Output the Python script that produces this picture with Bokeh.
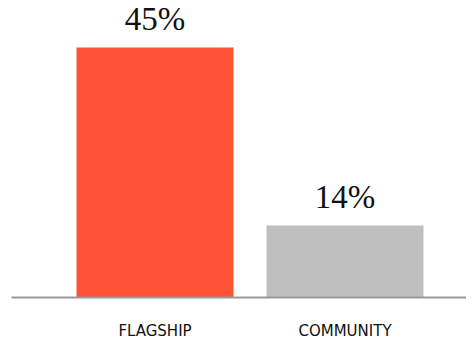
from bokeh.plotting import figure
from bokeh.models import ColumnDataSource, LabelSet, Range1d, FixedTicker
from bokeh.embed import file_html
from bokeh.resources import INLINE

categories = ["FLAGSHIP", "COMMUNITY"]
values = [45, 14]
labels = ["45%", "14%"]
colors = ["#FF5236", "#BFBFBF"]

xs = list(range(len(categories)))
src = ColumnDataSource(dict(x=xs, top=values, label=labels, color=colors))

p = figure(frame_width=455, frame_height=297, output_backend="svg", toolbar_location=None,
           x_range=Range1d(-0.7553, 1.6395), y_range=Range1d(1.46, 53.18),
           min_border_left=11, min_border_right=0, min_border_top=0, min_border_bottom=40)
p.outline_line_color = None
p.background_fill_color = "white"
p.border_fill_color = "white"
p.grid.visible = False
p.yaxis.visible = False

p.vbar(x="x", top="top", bottom=0, width=0.826, color="color", source=src, line_color=None)

p.add_layout(LabelSet(x="x", y="top", text="label", source=src, y_offset=17,
                      text_align="center", text_baseline="alphabetic",
                      text_font="Liberation Serif", text_font_size="33px",
                      text_color="#111111"))

ax = p.xaxis[0]
ax.ticker = FixedTicker(ticks=xs)
ax.major_label_overrides = {i: c for i, c in zip(xs, categories)}
ax.axis_line_color = "#999999"
ax.axis_line_width = 2
ax.major_tick_line_color = None
ax.minor_tick_line_color = None
ax.major_tick_out = 0
ax.major_tick_in = 0
ax.major_label_standoff = 24
ax.major_label_text_font = "DejaVu Sans"
ax.major_label_text_font_size = "15px"
ax.major_label_text_color = "#111111"

open("out.html", "w").write(file_html(p, INLINE))
